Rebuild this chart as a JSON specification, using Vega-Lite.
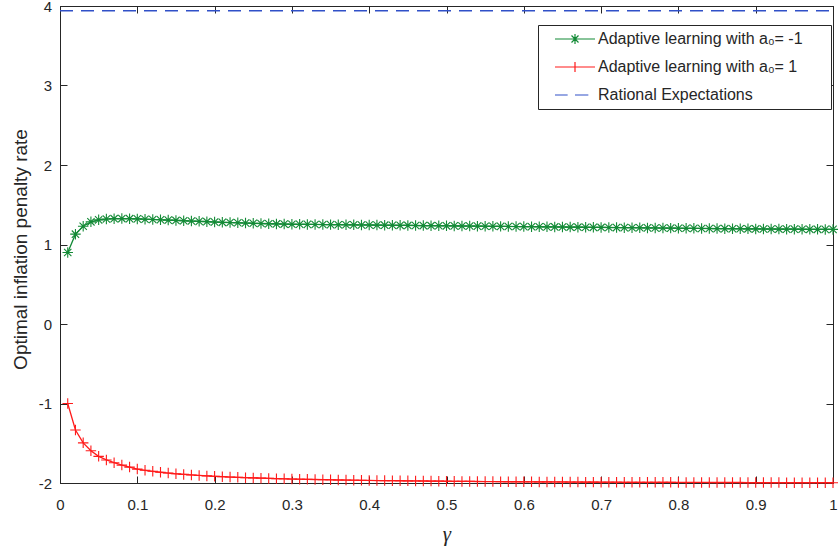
{
  "$schema": "https://vega.github.io/schema/vega-lite/v6.json",
  "width": 773,
  "height": 477,
  "autosize": {"type": "none"},
  "padding": {"left": 60, "top": 6, "right": 5, "bottom": 66},
  "background": "white",
  "config": {
    "font": "Liberation Sans",
    "view": {"stroke": "#262626", "strokeWidth": 1},
    "axis": {
      "grid": false,
      "tickSize": -7,
      "tickColor": "#262626",
      "tickWidth": 1,
      "domainColor": "#262626",
      "domainWidth": 1,
      "labelFont": "Liberation Sans",
      "labelFontSize": 15,
      "labelColor": "#262626",
      "titleFont": "Liberation Sans",
      "titleFontWeight": "normal",
      "titleColor": "#262626"
    }
  },
  "data": {
    "values": [
      {"gamma":0.01,"series":"neg","rate":0.9},{"gamma":0.02,"series":"neg","rate":1.13},{"gamma":0.03,"series":"neg","rate":1.23},{"gamma":0.04,"series":"neg","rate":1.285},{"gamma":0.05,"series":"neg","rate":1.31},
      {"gamma":0.06,"series":"neg","rate":1.32},{"gamma":0.07,"series":"neg","rate":1.325},{"gamma":0.08,"series":"neg","rate":1.326},{"gamma":0.09,"series":"neg","rate":1.325},{"gamma":0.1,"series":"neg","rate":1.322},
      {"gamma":0.11,"series":"neg","rate":1.318},{"gamma":0.12,"series":"neg","rate":1.315},{"gamma":0.13,"series":"neg","rate":1.311},{"gamma":0.14,"series":"neg","rate":1.307},{"gamma":0.15,"series":"neg","rate":1.303},
      {"gamma":0.16,"series":"neg","rate":1.299},{"gamma":0.17,"series":"neg","rate":1.295},{"gamma":0.18,"series":"neg","rate":1.291},{"gamma":0.19,"series":"neg","rate":1.287},{"gamma":0.2,"series":"neg","rate":1.283},
      {"gamma":0.21,"series":"neg","rate":1.279},{"gamma":0.22,"series":"neg","rate":1.276},{"gamma":0.23,"series":"neg","rate":1.273},{"gamma":0.24,"series":"neg","rate":1.27},{"gamma":0.25,"series":"neg","rate":1.267},
      {"gamma":0.26,"series":"neg","rate":1.264},{"gamma":0.27,"series":"neg","rate":1.261},{"gamma":0.28,"series":"neg","rate":1.259},{"gamma":0.29,"series":"neg","rate":1.257},{"gamma":0.3,"series":"neg","rate":1.255},
      {"gamma":0.31,"series":"neg","rate":1.254},{"gamma":0.32,"series":"neg","rate":1.253},{"gamma":0.33,"series":"neg","rate":1.252},{"gamma":0.34,"series":"neg","rate":1.251},{"gamma":0.35,"series":"neg","rate":1.25},
      {"gamma":0.36,"series":"neg","rate":1.249},{"gamma":0.37,"series":"neg","rate":1.248},{"gamma":0.38,"series":"neg","rate":1.247},{"gamma":0.39,"series":"neg","rate":1.246},{"gamma":0.4,"series":"neg","rate":1.245},
      {"gamma":0.41,"series":"neg","rate":1.244},{"gamma":0.42,"series":"neg","rate":1.243},{"gamma":0.43,"series":"neg","rate":1.242},{"gamma":0.44,"series":"neg","rate":1.241},{"gamma":0.45,"series":"neg","rate":1.24},
      {"gamma":0.46,"series":"neg","rate":1.239},{"gamma":0.47,"series":"neg","rate":1.238},{"gamma":0.48,"series":"neg","rate":1.237},{"gamma":0.49,"series":"neg","rate":1.236},{"gamma":0.5,"series":"neg","rate":1.235},
      {"gamma":0.51,"series":"neg","rate":1.234},{"gamma":0.52,"series":"neg","rate":1.233},{"gamma":0.53,"series":"neg","rate":1.232},{"gamma":0.54,"series":"neg","rate":1.231},{"gamma":0.55,"series":"neg","rate":1.23},
      {"gamma":0.56,"series":"neg","rate":1.229},{"gamma":0.57,"series":"neg","rate":1.228},{"gamma":0.58,"series":"neg","rate":1.227},{"gamma":0.59,"series":"neg","rate":1.226},{"gamma":0.6,"series":"neg","rate":1.225},
      {"gamma":0.61,"series":"neg","rate":1.224},{"gamma":0.62,"series":"neg","rate":1.223},{"gamma":0.63,"series":"neg","rate":1.222},{"gamma":0.64,"series":"neg","rate":1.221},{"gamma":0.65,"series":"neg","rate":1.22},
      {"gamma":0.66,"series":"neg","rate":1.219},{"gamma":0.67,"series":"neg","rate":1.218},{"gamma":0.68,"series":"neg","rate":1.217},{"gamma":0.69,"series":"neg","rate":1.216},{"gamma":0.7,"series":"neg","rate":1.215},
      {"gamma":0.71,"series":"neg","rate":1.214},{"gamma":0.72,"series":"neg","rate":1.213},{"gamma":0.73,"series":"neg","rate":1.212},{"gamma":0.74,"series":"neg","rate":1.211},{"gamma":0.75,"series":"neg","rate":1.21},
      {"gamma":0.76,"series":"neg","rate":1.209},{"gamma":0.77,"series":"neg","rate":1.208},{"gamma":0.78,"series":"neg","rate":1.207},{"gamma":0.79,"series":"neg","rate":1.206},{"gamma":0.8,"series":"neg","rate":1.205},
      {"gamma":0.81,"series":"neg","rate":1.204},{"gamma":0.82,"series":"neg","rate":1.203},{"gamma":0.83,"series":"neg","rate":1.202},{"gamma":0.84,"series":"neg","rate":1.201},{"gamma":0.85,"series":"neg","rate":1.2},
      {"gamma":0.86,"series":"neg","rate":1.199},{"gamma":0.87,"series":"neg","rate":1.198},{"gamma":0.88,"series":"neg","rate":1.198},{"gamma":0.89,"series":"neg","rate":1.197},{"gamma":0.9,"series":"neg","rate":1.196},
      {"gamma":0.91,"series":"neg","rate":1.195},{"gamma":0.92,"series":"neg","rate":1.195},{"gamma":0.93,"series":"neg","rate":1.194},{"gamma":0.94,"series":"neg","rate":1.193},{"gamma":0.95,"series":"neg","rate":1.193},
      {"gamma":0.96,"series":"neg","rate":1.192},{"gamma":0.97,"series":"neg","rate":1.191},{"gamma":0.98,"series":"neg","rate":1.191},{"gamma":0.99,"series":"neg","rate":1.19},{"gamma":1.0,"series":"neg","rate":1.19},

      {"gamma":0.01,"series":"pos","rate":-1.0},{"gamma":0.02,"series":"pos","rate":-1.333},{"gamma":0.03,"series":"pos","rate":-1.495},{"gamma":0.04,"series":"pos","rate":-1.595},{"gamma":0.05,"series":"pos","rate":-1.665},
      {"gamma":0.06,"series":"pos","rate":-1.71},{"gamma":0.07,"series":"pos","rate":-1.745},{"gamma":0.08,"series":"pos","rate":-1.775},{"gamma":0.09,"series":"pos","rate":-1.8},{"gamma":0.1,"series":"pos","rate":-1.825},
      {"gamma":0.11,"series":"pos","rate":-1.84},{"gamma":0.12,"series":"pos","rate":-1.853},{"gamma":0.13,"series":"pos","rate":-1.865},{"gamma":0.14,"series":"pos","rate":-1.875},{"gamma":0.15,"series":"pos","rate":-1.884},
      {"gamma":0.16,"series":"pos","rate":-1.892},{"gamma":0.17,"series":"pos","rate":-1.899},{"gamma":0.18,"series":"pos","rate":-1.905},{"gamma":0.19,"series":"pos","rate":-1.911},{"gamma":0.2,"series":"pos","rate":-1.916},
      {"gamma":0.21,"series":"pos","rate":-1.921},{"gamma":0.22,"series":"pos","rate":-1.925},{"gamma":0.23,"series":"pos","rate":-1.929},{"gamma":0.24,"series":"pos","rate":-1.933},{"gamma":0.25,"series":"pos","rate":-1.936},
      {"gamma":0.26,"series":"pos","rate":-1.939},{"gamma":0.27,"series":"pos","rate":-1.942},{"gamma":0.28,"series":"pos","rate":-1.945},{"gamma":0.29,"series":"pos","rate":-1.947},{"gamma":0.3,"series":"pos","rate":-1.95},
      {"gamma":0.31,"series":"pos","rate":-1.952},{"gamma":0.32,"series":"pos","rate":-1.954},{"gamma":0.33,"series":"pos","rate":-1.956},{"gamma":0.34,"series":"pos","rate":-1.958},{"gamma":0.35,"series":"pos","rate":-1.96},
      {"gamma":0.36,"series":"pos","rate":-1.962},{"gamma":0.37,"series":"pos","rate":-1.963},{"gamma":0.38,"series":"pos","rate":-1.965},{"gamma":0.39,"series":"pos","rate":-1.966},{"gamma":0.4,"series":"pos","rate":-1.968},
      {"gamma":0.41,"series":"pos","rate":-1.969},{"gamma":0.42,"series":"pos","rate":-1.97},{"gamma":0.43,"series":"pos","rate":-1.971},{"gamma":0.44,"series":"pos","rate":-1.972},{"gamma":0.45,"series":"pos","rate":-1.973},
      {"gamma":0.46,"series":"pos","rate":-1.974},{"gamma":0.47,"series":"pos","rate":-1.975},{"gamma":0.48,"series":"pos","rate":-1.976},{"gamma":0.49,"series":"pos","rate":-1.977},{"gamma":0.5,"series":"pos","rate":-1.978},
      {"gamma":0.51,"series":"pos","rate":-1.979},{"gamma":0.52,"series":"pos","rate":-1.98},{"gamma":0.53,"series":"pos","rate":-1.98},{"gamma":0.54,"series":"pos","rate":-1.981},{"gamma":0.55,"series":"pos","rate":-1.982},
      {"gamma":0.56,"series":"pos","rate":-1.982},{"gamma":0.57,"series":"pos","rate":-1.983},{"gamma":0.58,"series":"pos","rate":-1.984},{"gamma":0.59,"series":"pos","rate":-1.984},{"gamma":0.6,"series":"pos","rate":-1.985},
      {"gamma":0.61,"series":"pos","rate":-1.985},{"gamma":0.62,"series":"pos","rate":-1.986},{"gamma":0.63,"series":"pos","rate":-1.986},{"gamma":0.64,"series":"pos","rate":-1.987},{"gamma":0.65,"series":"pos","rate":-1.987},
      {"gamma":0.66,"series":"pos","rate":-1.988},{"gamma":0.67,"series":"pos","rate":-1.988},{"gamma":0.68,"series":"pos","rate":-1.989},{"gamma":0.69,"series":"pos","rate":-1.989},{"gamma":0.7,"series":"pos","rate":-1.99},
      {"gamma":0.71,"series":"pos","rate":-1.99},{"gamma":0.72,"series":"pos","rate":-1.99},{"gamma":0.73,"series":"pos","rate":-1.991},{"gamma":0.74,"series":"pos","rate":-1.991},{"gamma":0.75,"series":"pos","rate":-1.991},
      {"gamma":0.76,"series":"pos","rate":-1.992},{"gamma":0.77,"series":"pos","rate":-1.992},{"gamma":0.78,"series":"pos","rate":-1.992},{"gamma":0.79,"series":"pos","rate":-1.992},{"gamma":0.8,"series":"pos","rate":-1.993},
      {"gamma":0.81,"series":"pos","rate":-1.993},{"gamma":0.82,"series":"pos","rate":-1.993},{"gamma":0.83,"series":"pos","rate":-1.993},{"gamma":0.84,"series":"pos","rate":-1.994},{"gamma":0.85,"series":"pos","rate":-1.994},
      {"gamma":0.86,"series":"pos","rate":-1.994},{"gamma":0.87,"series":"pos","rate":-1.994},{"gamma":0.88,"series":"pos","rate":-1.994},{"gamma":0.89,"series":"pos","rate":-1.995},{"gamma":0.9,"series":"pos","rate":-1.995},
      {"gamma":0.91,"series":"pos","rate":-1.995},{"gamma":0.92,"series":"pos","rate":-1.995},{"gamma":0.93,"series":"pos","rate":-1.995},{"gamma":0.94,"series":"pos","rate":-1.996},{"gamma":0.95,"series":"pos","rate":-1.996},
      {"gamma":0.96,"series":"pos","rate":-1.996},{"gamma":0.97,"series":"pos","rate":-1.996},{"gamma":0.98,"series":"pos","rate":-1.996},{"gamma":0.99,"series":"pos","rate":-1.996},{"gamma":1.0,"series":"pos","rate":-1.997},

      {"gamma":0,"series":"re","rate":3.94},{"gamma":1,"series":"re","rate":3.94}
    ]
  },
  "layer": [
    {
      "transform": [{"filter": "datum.series === 're'"}],
      "mark": {"type": "line", "strokeWidth": 1.3, "color": "#3050c8", "strokeDash": [13, 8]},
      "encoding": {
        "x": {"field": "gamma", "type": "quantitative",
          "scale": {"domain": [0, 1], "nice": false, "zero": false},
          "axis": {"orient": "bottom", "values": [0,0.1,0.2,0.3,0.4,0.5,0.6,0.7,0.8,0.9,1], "format": ".1~f", "labelFlush": false, "labelPadding": 21,
            "title": "γ", "titleFont": "Liberation Serif", "titleFontStyle": "italic", "titleFontSize": 21, "titleBaseline": "alphabetic", "titleY": 57, "titleX": 386.5}},
        "y": {"field": "rate", "type": "quantitative",
          "scale": {"domain": [-2, 4], "nice": false, "zero": false},
          "axis": {"orient": "left", "values": [-2,-1,0,1,2,3,4], "labelExpr": "datum.value + ''", "labelPadding": 15.5,
            "title": "Optimal inflation penalty rate", "titleFontSize": 19, "titleAngle": -90, "titleBaseline": "alphabetic", "titleAlign": "center", "titleX": -34, "titleY": 243}}
      }
    },
    {
      "transform": [{"filter": "datum.series === 'neg'"}],
      "mark": {"type": "line", "strokeWidth": 1.3, "color": "#138a36"},
      "encoding": {
        "x": {"field": "gamma", "type": "quantitative",
          "axis": {"orient": "top", "values": [0,0.1,0.2,0.3,0.4,0.5,0.6,0.7,0.8,0.9,1], "labels": false, "title": null}},
        "y": {"field": "rate", "type": "quantitative",
          "axis": {"orient": "right", "values": [-2,-1,0,1,2,3,4], "labels": false, "title": null}}
      }
    },
    {
      "transform": [{"filter": "datum.series === 'pos'"}],
      "mark": {"type": "line", "strokeWidth": 1.3, "color": "#ff1a1a"},
      "encoding": {
        "x": {"field": "gamma", "type": "quantitative", "axis": null},
        "y": {"field": "rate", "type": "quantitative", "axis": null}
      }
    },
    {
      "transform": [{"filter": "datum.series === 'neg'"}],
      "mark": {"type": "point", "filled": false, "color": "#138a36", "size": 110, "strokeWidth": 1.1, "opacity": 1,
        "shape": "M-1,0L1,0M0,-1L0,1M-0.7,-0.7L0.7,0.7M-0.7,0.7L0.7,-0.7"},
      "encoding": {
        "x": {"field": "gamma", "type": "quantitative", "axis": null},
        "y": {"field": "rate", "type": "quantitative", "axis": null}
      }
    },
    {
      "transform": [{"filter": "datum.series === 'pos'"}],
      "mark": {"type": "point", "filled": false, "color": "#ff1a1a", "size": 110, "strokeWidth": 1.1, "opacity": 1,
        "shape": "M-1,0L1,0M0,-1L0,1"},
      "encoding": {
        "x": {"field": "gamma", "type": "quantitative", "axis": null},
        "y": {"field": "rate", "type": "quantitative", "axis": null}
      }
    },
    {
      "mark": {"type": "point", "filled": false, "opacity": 0, "size": 100},
      "encoding": {
        "x": {"field": "gamma", "type": "quantitative", "axis": null},
        "y": {"field": "rate", "type": "quantitative", "axis": null},
        "color": {"field": "series", "type": "nominal",
          "scale": {"domain": ["neg", "pos", "re"], "range": ["#138a36", "#ff1a1a", "#3050c8"]},
          "legend": {"orient": "none", "legendX": 478, "legendY": 19, "title": null, "padding": 6, "rowPadding": 12,
            "symbolSize": 100, "symbolStrokeWidth": 1.2, "symbolOpacity": 1, "symbolOffset": 23, "labelOffset": 15, "labelLimit": 400,
            "labelFont": "Liberation Sans", "labelFontSize": 16, "labelColor": "#262626",
            "strokeColor": "#262626", "fillColor": "white",
            "labelExpr": "datum.value === 'neg' ? 'Adaptive learning with a₀= -1\u00a0\u00a0\u00a0\u00a0\u00a0\u200b' : datum.value === 'pos' ? 'Adaptive learning with a₀= 1' : 'Rational Expectations'"}},
        "shape": {"field": "series", "type": "nominal",
          "scale": {"domain": ["neg", "pos", "re"], "range": [
            "M-4,0L4,0M-1,0L1,0M0,-1L0,1M-0.7,-0.7L0.7,0.7M-0.7,0.7L0.7,-0.7",
            "M-4,0L4,0M0,-1L0,1",
            "M-4,0L-1.47,0M0,0L2.67,0"]},
          "legend": {"orient": "none", "legendX": 478, "legendY": 19, "title": null, "padding": 6, "rowPadding": 12,
            "symbolSize": 100, "symbolStrokeWidth": 1.2, "symbolOpacity": 1, "symbolOffset": 23, "labelOffset": 15, "labelLimit": 400,
            "labelFont": "Liberation Sans", "labelFontSize": 16, "labelColor": "#262626",
            "strokeColor": "#262626", "fillColor": "white",
            "labelExpr": "datum.value === 'neg' ? 'Adaptive learning with a₀= -1\u00a0\u00a0\u00a0\u00a0\u00a0\u200b' : datum.value === 'pos' ? 'Adaptive learning with a₀= 1' : 'Rational Expectations'"}}
      }
    }
  ],
  "resolve": {"axis": {"x": "independent", "y": "independent"}}
}
